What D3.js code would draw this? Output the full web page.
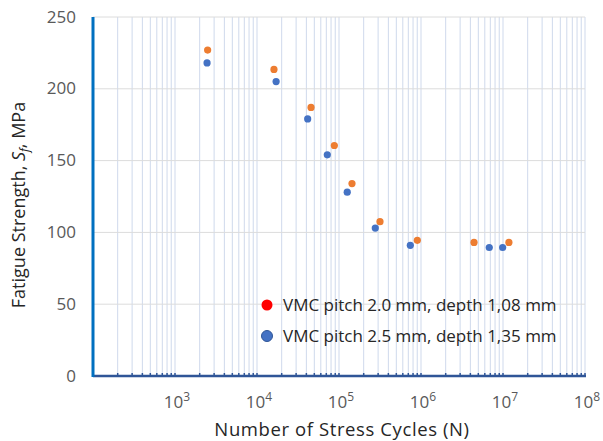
<!DOCTYPE html>
<html><head><meta charset="utf-8">
<script src="https://cdn.jsdelivr.net/npm/d3@7"></script>
<style>body{margin:0;background:#fff;} svg{display:block;}</style>
</head><body>
<svg id="c" width="603" height="441"></svg>
<script>
// Data
const seriesNames = ["VMC pitch 2.0 mm, depth 1,08 mm", "VMC pitch 2.5 mm, depth 1,35 mm"];
const cyclesA = [2500, 16100, 45600, 87700, 144000, 316000, 902000, 4430000, 11800000];
const strengthA = [227, 213.5, 187, 160.5, 134, 107.5, 94.5, 93, 93];
const cyclesB = [2460, 17100, 41500, 72000, 126000, 277000, 741000, 6800000, 9900000];
const strengthB = [218, 205, 179, 154, 128, 103, 91, 89.5, 89.5];
const yTicks = [0, 50, 100, 150, 200, 250];
const xDecades = [3, 4, 5, 6, 7, 8];

const FONT = "'Open Sans', 'Noto Sans', sans-serif";
const svg = d3.select("#c");
const L = 93, R = 585, T = 17, B = 376;
const x = d3.scaleLog().domain([1e2, 1e8]).range([L, R]);
const y = d3.scaleLinear().domain([0, 250]).range([B, T]);

// minor grid positions
const minor = [];
for (let e = 2; e < 8; e++) for (let m = 2; m <= 10; m++) minor.push(m * Math.pow(10, e));

// vertical gridlines
svg.append("g").selectAll("line").data(minor).join("line")
  .attr("x1", d => x(d)).attr("x2", d => x(d)).attr("y1", T).attr("y2", B)
  .attr("stroke", "#cfd9ec").attr("stroke-width", 1);

// horizontal gridlines
svg.append("g").selectAll("line").data(yTicks.slice(1)).join("line")
  .attr("x1", L).attr("x2", R).attr("y1", d => y(d)).attr("y2", d => y(d))
  .attr("stroke", "#dcdcdc").attr("stroke-width", 1);

// y tick labels
svg.append("g").selectAll("text").data(yTicks).join("text")
  .attr("x", 76).attr("y", d => y(d)).attr("dy", "0.33em")
  .attr("text-anchor", "end").attr("fill", "#595959")
  .attr("font-family", FONT).attr("font-size", 17)
  .text(d => d);

// x tick marks
svg.append("g").selectAll("line").data(minor).join("line")
  .attr("x1", d => x(d)).attr("x2", d => x(d)).attr("y1", B - 3).attr("y2", B)
  .attr("stroke", "#2f5597").attr("stroke-width", 1.5);

// axes lines
svg.append("line").attr("x1", L).attr("x2", R + 1).attr("y1", B).attr("y2", B)
  .attr("stroke", "#2f5597").attr("stroke-width", 2.5);
svg.append("line").attr("x1", L).attr("x2", L).attr("y1", T).attr("y2", B + 1)
  .attr("stroke", "#0070c0").attr("stroke-width", 3);

// x labels
const xl = svg.append("g").selectAll("text").data(xDecades).join("text")
  .attr("x", d => x(Math.pow(10, d)) + 2).attr("y", 408)
  .attr("text-anchor", "middle").attr("fill", "#595959")
  .attr("font-family", FONT).attr("font-size", 17);
xl.append("tspan").text("10");
xl.append("tspan").attr("dy", -7).attr("font-size", 12).text(d => d);

// points
svg.append("g").selectAll("circle").data(cyclesA.map((c, i) => [c, strengthA[i]])).join("circle")
  .attr("cx", d => x(d[0])).attr("cy", d => y(d[1])).attr("r", 3.6).attr("fill", "#ed7d31");
svg.append("g").selectAll("circle").data(cyclesB.map((c, i) => [c, strengthB[i]])).join("circle")
  .attr("cx", d => x(d[0])).attr("cy", d => y(d[1])).attr("r", 3.6).attr("fill", "#4472c4");

// legend
const legColors = ["#ff0000", "#4472c4"];
const leg = svg.append("g").selectAll("g").data(seriesNames).join("g")
  .attr("transform", (d, i) => `translate(267,${305 + i * 31})`);
leg.append("circle").attr("r", 5.5).attr("fill", (d, i) => legColors[i])
  .attr("stroke", (d, i) => i === 1 ? "#2f5597" : "none").attr("stroke-width", 1);
leg.append("text").attr("x", 16).attr("dy", "0.35em").attr("fill", "#262626")
  .attr("font-family", FONT).attr("font-size", 17)
  .text(d => d);

// axis titles
svg.append("text").attr("x", 342).attr("y", 436).attr("text-anchor", "middle")
  .attr("fill", "#262626").attr("font-family", FONT).attr("font-size", 18.5)
  .attr("letter-spacing", 0.6)
  .text("Number of Stress Cycles (N)");
const yt = svg.append("text").attr("transform", "translate(25,205) rotate(-90)").attr("text-anchor", "middle")
  .attr("fill", "#262626").attr("font-family", FONT).attr("font-size", 18);
yt.append("tspan").text("Fatigue Strength, ");
yt.append("tspan").attr("font-style", "italic").text("S");
yt.append("tspan").attr("font-style", "italic").attr("font-size", 12).attr("dy", 4).text("f");
yt.append("tspan").attr("dy", -4).text(", MPa");
</script>
</body></html>
